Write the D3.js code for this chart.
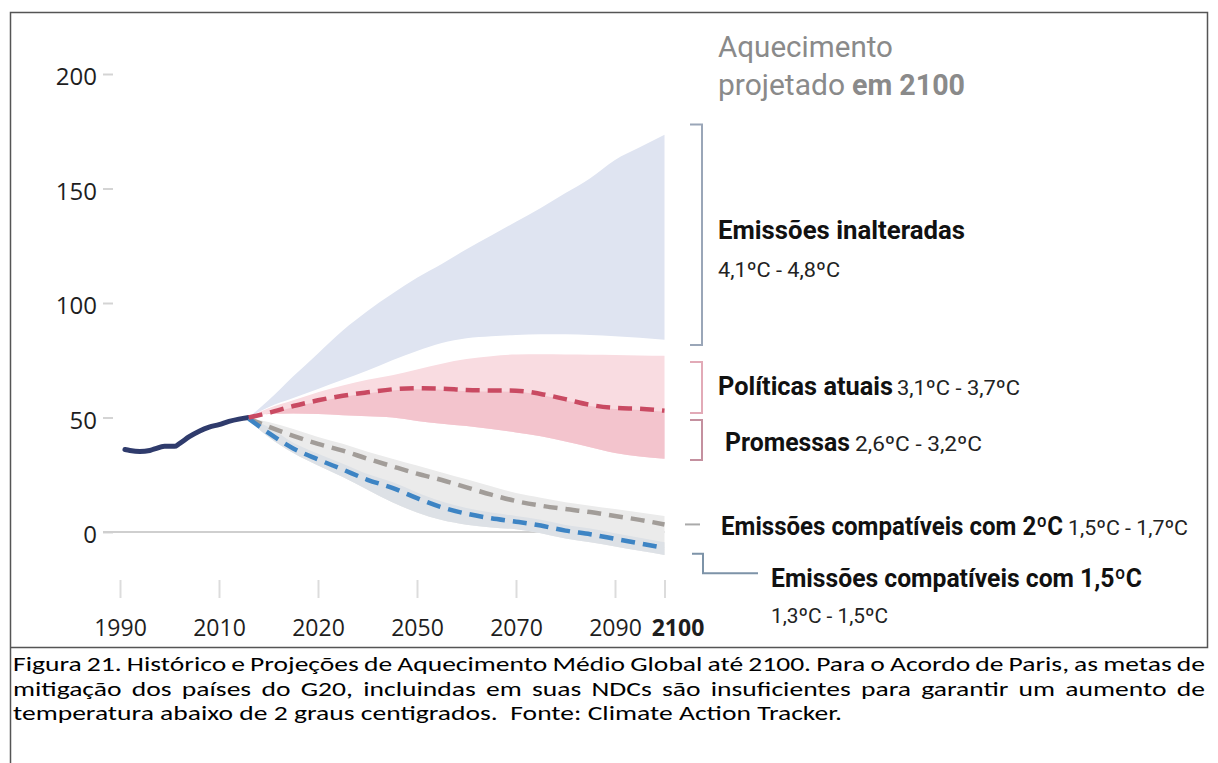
<!DOCTYPE html>
<html lang="pt">
<head>
<meta charset="utf-8">
<title>Aquecimento projetado em 2100</title>
<script src="https://cdn.jsdelivr.net/npm/d3@7"></script>
<style>
  body { margin: 0; background: #fff; }
  svg { display: block; }
</style>
</head>
<body>
<div id="d3-container"></div>
<script>
/* CONSTANTS AND GLOBALS */
const width = 1218,
  height = 763,
  margin = { top: 74, bottom: 231, left: 120, right: 553.5 };

/* DATA (GtCO2e) */
const histYears = [1991, 1992, 1994, 1996, 1997, 1999, 2001, 2002, 2004, 2006, 2008, 2010, 2012, 2014, 2016];
const histValues = [36, 35.6, 35.2, 35.6, 36.3, 37.4, 37.4, 38.6, 41.6, 44, 45.8, 46.9, 48.3, 49.3, 50];

const projYears = [2016, 2020, 2025, 2030, 2035, 2040, 2045, 2050, 2055, 2060, 2065, 2070, 2075, 2080, 2085, 2090, 2095, 2100];
// emissões inalteradas (baseline)
const baselineHigh = [50, 57.5, 68, 78, 88, 96.5, 104, 111, 117, 123.5, 129.5, 135.5, 141.5, 148, 154.5, 162.5, 168, 173.5];
const baselineLow = [50, 54.5, 58.5, 62.5, 66.5, 70.5, 75, 79, 82.5, 84.6, 85.5, 86, 86.3, 86.3, 86, 85.5, 84.8, 84];
// políticas atuais / promessas
const policyHigh = [50, 54, 57.5, 61, 64, 66.5, 68.5, 71, 73.5, 75.5, 76.8, 77.5, 77.6, 77.5, 77.4, 77.3, 77.1, 77];
const policyMedian = [50, 52, 55, 57.5, 59.5, 61, 62.3, 62.8, 62.6, 62, 61.8, 61.7, 60.3, 58, 55.5, 54.2, 53.8, 53];
const pledgeHigh = [50, 51.8, 54.5, 57, 59, 60.5, 61.8, 62.3, 62.1, 61.5, 61.3, 61.2, 59.8, 57.5, 55, 53.7, 53.3, 52.5];
const pledgeLow = [50, 51.5, 51.8, 51.5, 51, 50.5, 50, 48.5, 47.3, 46.3, 45, 43.5, 41.8, 39.5, 37, 34.5, 33, 32];
// 2ºC
const twoDegHigh = [50, 48, 45, 41.5, 38.5, 35, 32, 29, 26, 23, 20, 17, 15, 13, 11.5, 10, 8.5, 7];
const twoDegMedian = [49.5, 46, 42, 38.5, 35.5, 32, 28.7, 25.5, 22.7, 19.5, 16.3, 13.5, 11.5, 10, 8.7, 7, 5.3, 3.3];
const twoDegLow = [49, 41.5, 34.5, 29, 24, 18.5, 13, 8.5, 5.2, 3.2, 2, 1.2, -0.5, -2.8, -4.5, -6.3, -8.2, -10];
// 1,5ºC
const oneFiveHigh = [50, 45.8, 39, 34.2, 29.8, 25.3, 21.8, 17.3, 13.3, 10.5, 8.5, 7, 5.3, 3.1, 1.5, -0.5, -2.5, -4.5];
const oneFiveMedian = [49.5, 43.3, 36.5, 31.7, 27.3, 22.8, 19.3, 14.8, 10.8, 8, 6, 4.5, 2.8, 0.6, -1, -3, -5, -7];
const oneFiveLow = [49, 41.5, 34.5, 29, 24, 18.5, 13, 8.5, 5.2, 3.2, 2, 1.2, -0.5, -2.8, -4.5, -6.3, -8.2, -10];

// axes
const yTicks = [0, 50, 100, 150, 200];
const xTickYears = [1990, 2010, 2030, 2050, 2070, 2090, 2100];
const xTickLabels = ["1990", "2010", "2020", "2050", "2070", "2090", "2100"]; // as printed in the figure

// brackets on the right (value ranges at 2100)
const bracketTop = [178, 74.2, 48.9];
const bracketBottom = [81.7, 52, 31.4];
const connectorTop = -9.5, connectorBottom = -18;

// texts
const titleLines = ["Aquecimento", "projetado", "em 2100"];
const scenarioNames = ["Emissões inalteradas", "Políticas atuais", "Promessas", "Emissões compatíveis com 2ºC", "Emissões compatíveis com 1,5ºC"];
const scenarioRanges = ["4,1ºC - 4,8ºC", "3,1ºC - 3,7ºC", "2,6ºC - 3,2ºC", "1,5ºC - 1,7ºC", "1,3ºC - 1,5ºC"];
const captionLines = [
  "Figura 21. Histórico e Projeções de Aquecimento Médio Global até 2100. Para o Acordo de Paris, as metas de",
  "mitigação dos países do G20, incluindas em suas NDCs são insuficientes para garantir um aumento de",
  "temperatura abaixo de 2 graus centigrados.  Fonte: Climate Action Tracker."
];

let svg, xScale, yScale;

init();

/* INITIALIZING FUNCTION */
function init() {
  xScale = d3.scaleLinear()
    .domain([1990, 2100])
    .range([margin.left, width - margin.right]);

  yScale = d3.scaleLinear()
    .domain([0, 200])
    .range([height - margin.bottom, margin.top]);

  svg = d3.select("#d3-container")
    .append("svg")
    .attr("width", width)
    .attr("height", height)
    .style("background-color", "#fff");

  // frame round the figure
  svg.append("path")
    .attr("fill", "none")
    .attr("stroke", "#555")
    .attr("stroke-width", 1.5)
    .attr("d", "M10.5,763 V12.5 H1207.5 V647.5 H10.5");

  // AXES
  const yAxis = d3.axisLeft(yScale)
    .tickValues(yTicks)
    .tickSize(10)
    .tickPadding(6);

  const yAxisGroup = svg.append("g")
    .attr("class", "yAxis")
    .attr("transform", `translate(${margin.left - 7}, 0)`)
    .call(yAxis);
  yAxisGroup.select(".domain").remove();
  yAxisGroup.selectAll("line").attr("stroke", "#d4d4d4").attr("stroke-width", 2);
  yAxisGroup.selectAll("text")
    .attr("dy", "0.45em")
    .attr("fill", "#1e1e1e")
    .style("font-family", "'Open Sans', sans-serif")
    .style("font-size", "24px");

  const xAxis = d3.axisBottom(xScale)
    .tickValues(xTickYears)
    .tickFormat((d, i) => xTickLabels[i])
    .tickSize(18)
    .tickPadding(22);

  const xAxisGroup = svg.append("g")
    .attr("class", "xAxis")
    .attr("transform", `translate(0, 580)`)
    .call(xAxis);
  xAxisGroup.select(".domain").remove();
  xAxisGroup.selectAll("line").attr("stroke", "#dcdcdc").attr("stroke-width", 2);
  xAxisGroup.selectAll("text")
    .attr("fill", "#1e1e1e")
    .style("font-family", "'Open Sans', sans-serif")
    .style("font-size", "23px")
    .style("font-weight", d => d === 2100 ? "bold" : "normal")
    .attr("dx", d => d === 2100 ? 13 : 0);

  // zero line
  svg.append("line")
    .attr("x1", margin.left - 17)
    .attr("x2", xScale(2100))
    .attr("y1", yScale(0))
    .attr("y2", yScale(0))
    .attr("stroke", "#cfcfcf")
    .attr("stroke-width", 2);

  draw();
}

/* DRAW FUNCTION */
function draw() {
  const area = (hi, lo) => d3.area()
    .x((d, i) => xScale(projYears[i]))
    .y0((d, i) => yScale(lo[i]))
    .y1((d, i) => yScale(hi[i]))
    .curve(d3.curveMonotoneX)(projYears);

  const line = vals => d3.line()
    .x((d, i) => xScale(projYears[i]))
    .y((d, i) => yScale(vals[i]))
    .curve(d3.curveMonotoneX)(projYears);

  // bands
  const bands = [
    { hi: baselineHigh, lo: baselineLow, fill: "#dfe4f1" },
    { hi: policyHigh, lo: pledgeLow, fill: "#f9dce1" },
    { hi: pledgeHigh, lo: pledgeLow, fill: "#f3c4cd" },
    { hi: twoDegHigh, lo: twoDegLow, fill: "#ebebeb" },
    { hi: oneFiveHigh, lo: oneFiveLow, fill: "#dde1e6" }
  ];
  svg.selectAll("path.band")
    .data(bands)
    .join("path")
    .attr("class", "band")
    .attr("fill", d => d.fill)
    .attr("d", d => area(d.hi, d.lo));

  // historical line
  const histLine = d3.line()
    .x((d, i) => xScale(histYears[i]))
    .y((d, i) => yScale(histValues[i]))
    .curve(d3.curveMonotoneX);

  svg.append("path")
    .attr("class", "history")
    .attr("fill", "none")
    .attr("stroke", "#2f3b6c")
    .attr("stroke-width", 5)
    .attr("stroke-linecap", "round")
    .attr("d", histLine(histYears));

  // dashed medians
  const medians = [
    { vals: twoDegMedian, stroke: "#a29d99" },
    { vals: oneFiveMedian, stroke: "#3d84c4" },
    { vals: policyMedian, stroke: "#c94a62" }
  ];
  svg.selectAll("path.median")
    .data(medians)
    .join("path")
    .attr("class", "median")
    .attr("fill", "none")
    .attr("stroke", d => d.stroke)
    .attr("stroke-width", 4.5)
    .attr("stroke-dasharray", "14,8")
    .attr("d", d => line(d.vals));

  // brackets
  const bx = xScale(2100) + 37.5;
  const bracketColors = ["#9aa6b8", "#e2aab7", "#c4909f"];
  svg.selectAll("path.bracket")
    .data(bracketTop)
    .join("path")
    .attr("class", "bracket")
    .attr("fill", "none")
    .attr("stroke", (d, i) => bracketColors[i])
    .attr("stroke-width", 2)
    .attr("d", (d, i) => `M${bx - 12},${yScale(d)} H${bx} V${yScale(bracketBottom[i])} H${bx - 12}`);

  // 2ºC mark and 1,5ºC connector
  const y2 = yScale(twoDegMedian[twoDegMedian.length - 1]);
  svg.append("line")
    .attr("x1", bx - 17).attr("x2", bx - 2)
    .attr("y1", y2).attr("y2", y2)
    .attr("stroke", "#aaa").attr("stroke-width", 2);

  svg.append("path")
    .attr("fill", "none")
    .attr("stroke", "#7d93a8")
    .attr("stroke-width", 2)
    .attr("d", `M${bx - 10},${yScale(connectorTop)} H${bx + 1} V${yScale(connectorBottom)} H${bx + 56}`);

  // labels on the right
  const labels = svg.append("g").style("font-family", "Roboto, sans-serif");
  const addText = (str, x, y, w, size, weight, fill) => labels.append("text")
    .attr("x", x).attr("y", y)
    .attr("textLength", w).attr("lengthAdjust", "spacingAndGlyphs")
    .style("font-size", size + "px")
    .style("font-weight", weight)
    .attr("fill", fill)
    .text(str);

  addText(titleLines[0], 718, 57, 175, 29, "normal", "#8a8a8a");
  addText(titleLines[1], 718, 95, 127, 29, "normal", "#8a8a8a");
  addText(titleLines[2], 852, 95, 113, 29, "bold", "#8a8a8a");

  addText(scenarioNames[0], 718, 239, 247, 25, "bold", "#111");
  addText(scenarioRanges[0], 718, 277, 122, 21, "normal", "#222");

  addText(scenarioNames[1], 718, 395, 175, 25, "bold", "#111");
  addText(scenarioRanges[1], 897, 395, 123, 21, "normal", "#222");

  addText(scenarioNames[2], 725, 451, 125, 25, "bold", "#111");
  addText(scenarioRanges[2], 855, 451, 127, 21, "normal", "#222");

  addText(scenarioNames[3], 721, 535, 342, 25, "bold", "#111");
  addText(scenarioRanges[3], 1068, 535, 120, 21, "normal", "#222");

  addText(scenarioNames[4], 771, 587, 371, 25, "bold", "#111");
  addText(scenarioRanges[4], 771, 623, 117, 21, "normal", "#222");

  // caption, justified like the document; the scan is stretched sideways
  const captionX0 = 13, captionX1 = 1205, lastLineWidth = 829;
  const captionFont = "Carlito, Calibri, Roboto, sans-serif";
  const captionSize = "20px";

  const probe = svg.append("text")
    .style("font-family", captionFont).style("font-size", captionSize).style("white-space", "pre")
    .text(captionLines[2]);
  const sx = lastLineWidth / probe.node().getComputedTextLength();
  probe.remove();

  captionLines.forEach((str, li) => {
    const g = svg.append("g")
      .attr("transform", `translate(${captionX0}, ${671 + li * 24.5}) scale(${sx}, 1)`);
    const t = g.append("text")
      .attr("fill", "#000")
      .style("font-family", captionFont)
      .style("font-size", captionSize);
    const words = str.split(" ");
    const spans = words.map(w => t.append("tspan").text(w));
    const widths = spans.map(s => s.node().getComputedTextLength());
    const span = (captionX1 - captionX0) / sx;
    const natural = (lastLineWidth / sx - d3.sum(widths)) / (words.length - 1);
    const gap = li < 2 ? (span - d3.sum(widths)) / (words.length - 1) : natural;
    let x = 0;
    spans.forEach((s, i) => {
      s.attr("x", x);
      x += widths[i] + gap;
    });
  });
}
</script>
</body>
</html>
